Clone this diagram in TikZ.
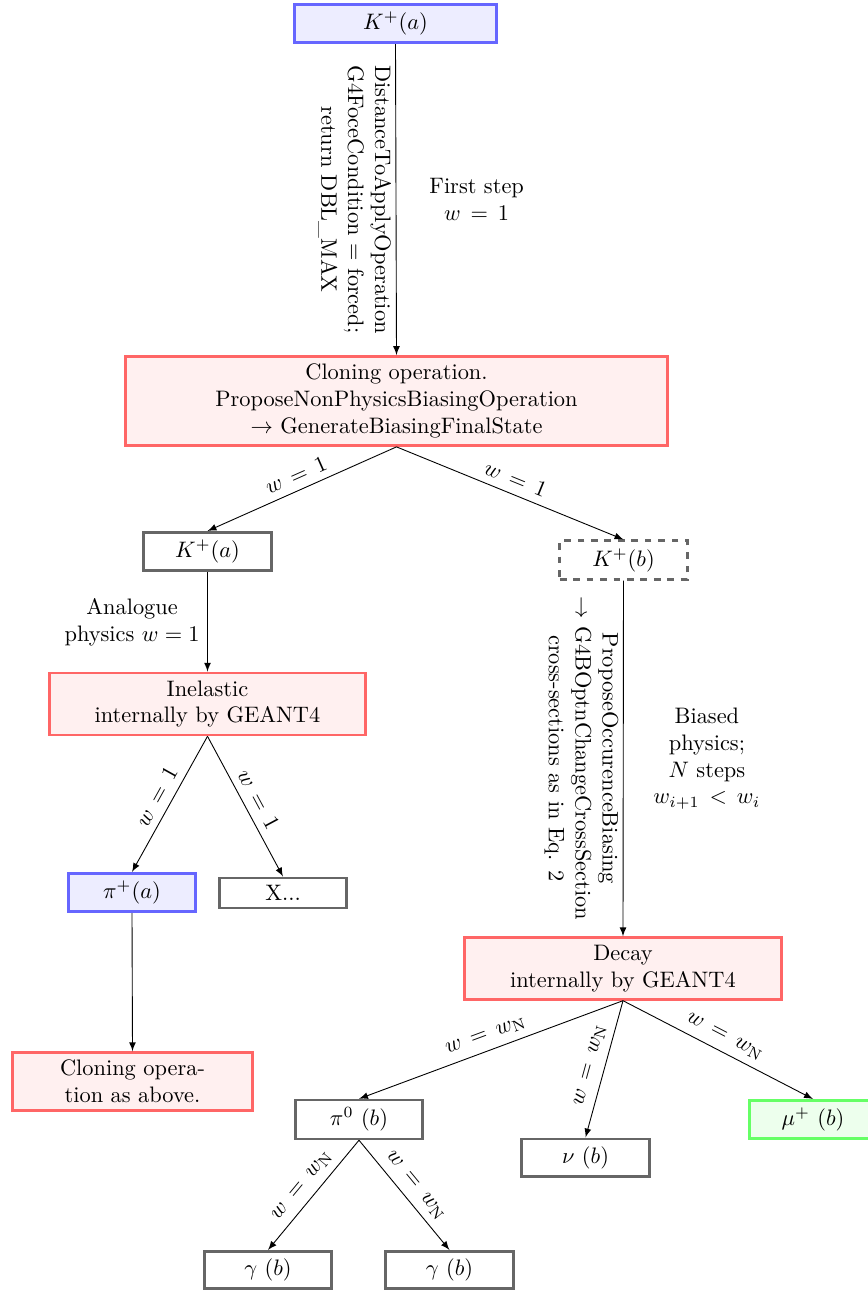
\documentclass[tikz,border=0pt]{standalone}
\begin{document}
\begin{tikzpicture}[>=latex, x=0.0157cm, y=-0.0157cm,
	every node/.style={align=center},
	bluebox/.style={draw=blue!60, fill=blue!7, line width=1.2pt, minimum width=2cm},
	redbox/.style={draw=red!60, fill=red!6, line width=1.2pt},
	greybox/.style={draw=black!60, line width=1.2pt, minimum width=2cm},
	greenbox/.style={draw=green!60, fill=green!7, line width=1.2pt, minimum width=2cm},
	wlab/.style={midway, above, sloped}]
\clip (0,0) rectangle (868,1293);
% first kaon and the cloning
\node[bluebox, minimum width=3.17cm] (kaTop) at (395.5,23.5) {$K^+(a)$};
\node[redbox, minimum width=8.5cm, minimum height=1.37cm] (clone) at (396.5,401)
	{Cloning operation.\\ProposeNonPhysicsBiasingOperation\\$\rightarrow$ GenerateBiasingFinalState};
\node[greybox] (kaLeft) at (207.5,551.5) {$K^+(a)$};
\node[greybox, dashed] (kbRight) at (623.5,560) {$K^+(b)$};
% analogue branch
\node[redbox, minimum width=4.97cm] (inelastic) at (207.5,704) {Inelastic\\internally by GEANT4};
\node[bluebox] (piA) at (132,892.5) {$\pi^+(a)$};
\node[greybox] (xRest) at (283,893) {X...};
\node[redbox, minimum width=3.77cm] (cloneAgain) at (132.5,1081.5) {Cloning opera-\\tion as above.};
% biased branch
\node[redbox, minimum width=4.98cm] (decay) at (623,968.5) {Decay\\internally by GEANT4};
\node[greybox] (pi0) at (359,1119.5) {$\pi^0\ (b)$};
\node[greybox] (nu) at (585.5,1157.5) {$\nu\ (b)$};
\node[greenbox] (mu) at (813,1119.5) {$\mu^+\ (b)$};
\node[greybox] (gamL) at (268,1270) {$\gamma\ (b)$};
\node[greybox] (gamR) at (449.5,1270) {$\gamma\ (b)$};

\draw[->] (kaTop.south) -- (clone.north)
	node[midway, rotate=-90, anchor=north, inner sep=2pt]
	{DistanceToApplyOperation\\G4FoceCondition = forced;\\return DBL\_MAX}
	node[midway, right=0.4cm] {First step\\$w\,=\,1$};
\draw[->] (clone.south) -- (kaLeft.north) node[wlab] {$w\,=\,1$};
\draw[->] (clone.south) -- (kbRight.north) node[wlab] {$w\,=\,1$};
\draw[->] (kaLeft.south) -- (inelastic.north) node[midway, left] {Analogue\\physics $w=1$};
\draw[->] (kbRight.south) -- (decay.north)
	node[midway, rotate=-90, anchor=north, inner sep=2pt]
	{ProposeOccurenceBiasing\\$\rightarrow$ G4BOptnChangeCrossSection\\cross-sections as in Eq. 2}
	node[midway, right=0.35cm] {Biased\\physics;\\$N$ steps\\$w_{i+1}\,<\,w_i$};
\draw[->] (inelastic.south) -- (piA.north) node[wlab] {$w\,=\,1$};
\draw[->] (inelastic.south) -- (xRest.north) node[wlab] {$w\,=\,1$};
\draw[->] (piA.south) -- (cloneAgain.north);
\draw[->] (decay.south) -- (pi0.north) node[wlab] {$w\,=\,w_{\mathrm{N}}$};
\draw[->] (decay.south) -- (nu.north) node[wlab] {$w\,=\,w_{\mathrm{N}}$};
\draw[->] (decay.south) -- (mu.north) node[wlab] {$w\,=\,w_{\mathrm{N}}$};
\draw[->] (pi0.south) -- (gamL.north) node[wlab] {$w\,=\,w_{\mathrm{N}}$};
\draw[->] (pi0.south) -- (gamR.north) node[wlab] {$w\,=\,w_{\mathrm{N}}$};
\end{tikzpicture}
\end{document}
